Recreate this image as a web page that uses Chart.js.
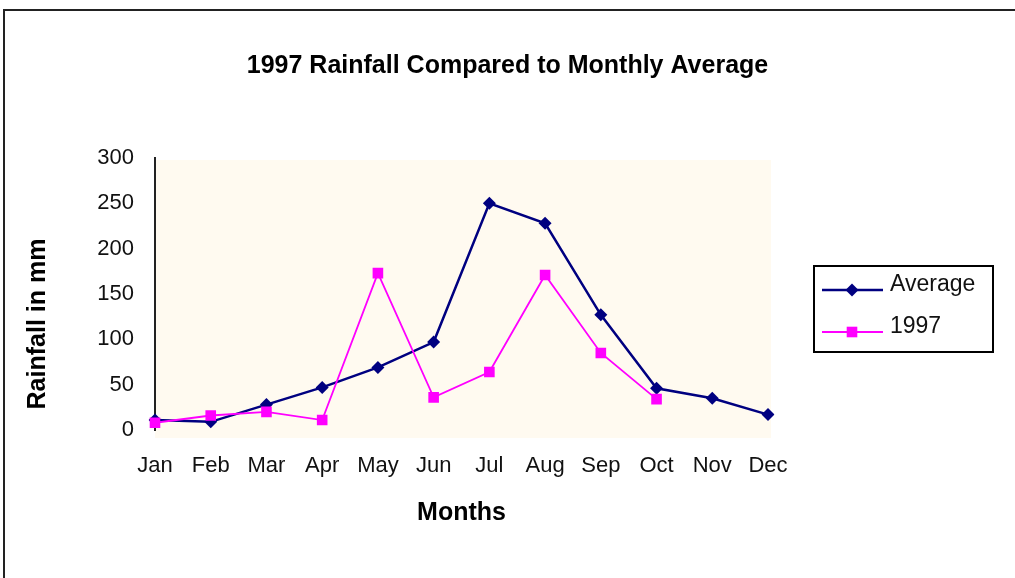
<!DOCTYPE html>
<html>
<head>
<meta charset="utf-8">
<script src="https://cdn.jsdelivr.net/npm/chart.js@4"></script>
<style>
  html, body { margin: 0; padding: 0; background: #fff; }
  #wrap { width: 1015px; height: 578px; }
</style>
</head>
<body>
<div id="wrap"><canvas id="rainChart" width="1015" height="578"></canvas></div>
<script>
const months = ['Jan', 'Feb', 'Mar', 'Apr', 'May', 'Jun', 'Jul', 'Aug', 'Sep', 'Oct', 'Nov', 'Dec'];
const averageRain = [11, 9, 28, 47, 69, 97, 250, 228, 127, 46, 35, 17];
const rain1997 = [8, 16, 20, 11, 173, 36, 64, 171, 85, 34, null, null];
const yTicks = [0, 50, 100, 150, 200, 250, 300];

const FONT = "'Liberation Sans', Arial, sans-serif";

// cream plot background, outer frame, y title and the boxed legend
const excelLook = {
  id: 'excelLook',
  beforeDraw(chart) {
    const { ctx, chartArea: a } = chart;
    ctx.save();
    ctx.fillStyle = '#fff';
    ctx.fillRect(0, 0, chart.width, chart.height);
    ctx.fillStyle = '#FFFAF0';
    ctx.fillRect(a.left, a.top + 2, a.right - a.left + 3, a.bottom - a.top + 6);
    ctx.strokeStyle = '#222';
    ctx.lineWidth = 2;
    ctx.strokeRect(4, 10, chart.width + 4, chart.height);
    ctx.restore();
  },
  afterDraw(chart) {
    const { ctx } = chart;
    ctx.save();
    // y axis title
    ctx.translate(38, 324);
    ctx.rotate(-Math.PI / 2);
    ctx.font = 'bold 25px ' + FONT;
    ctx.fillStyle = '#000';
    ctx.textAlign = 'center';
    ctx.textBaseline = 'middle';
    ctx.fillText('Rainfall in mm', 0, 0);
    ctx.restore();

    // legend
    ctx.save();
    ctx.strokeStyle = '#000';
    ctx.lineWidth = 2;
    ctx.strokeRect(814, 266, 179, 86);
    chart.data.datasets.forEach((ds, i) => {
      const y = 290 + i * 42;
      ctx.strokeStyle = ds.borderColor;
      ctx.lineWidth = ds.borderWidth;
      ctx.beginPath();
      ctx.moveTo(822, y);
      ctx.lineTo(883, y);
      ctx.stroke();
      ctx.fillStyle = ds.pointBackgroundColor;
      Chart.helpers.drawPoint(ctx, { pointStyle: ds.pointStyle, radius: ds.pointRadius, rotation: 0, borderWidth: 0 }, 852, y);
      ctx.fillStyle = '#111';
      ctx.font = '23px ' + FONT;
      ctx.textAlign = 'left';
      ctx.textBaseline = 'alphabetic';
      ctx.fillText(ds.label, 890, y + 1);
    });
    ctx.restore();
  }
};

new Chart(document.getElementById('rainChart').getContext('2d'), {
  type: 'line',
  data: {
    labels: months,
    datasets: [{
      label: 'Average',
      data: averageRain,
      borderColor: '#000080',
      backgroundColor: '#000080',
      pointBackgroundColor: '#000080',
      pointBorderColor: '#000080',
      borderWidth: 2.5,
      pointStyle: 'rectRot',
      pointRadius: 6.5,
      pointBorderWidth: 0,
      tension: 0,
      order: 2
    }, {
      label: '1997',
      data: rain1997,
      borderColor: '#FF00FF',
      backgroundColor: '#FF00FF',
      pointBackgroundColor: '#FF00FF',
      pointBorderColor: '#FF00FF',
      borderWidth: 1.8,
      pointStyle: 'rect',
      pointRadius: 7.5,
      pointBorderWidth: 0,
      tension: 0,
      order: 1
    }]
  },
  options: {
    responsive: false,
    animation: false,
    layout: { padding: { top: 51, right: 0, bottom: 0, left: 0 } },
    plugins: {
      legend: { display: false },
      tooltip: { enabled: false },
      title: {
        display: true,
        text: '1997 Rainfall Compared to Monthly Average',
        color: '#000',
        font: { family: FONT, size: 25, weight: 'bold' },
        padding: { top: 0, bottom: 77 }
      }
    },
    scales: {
      x: {
        offset: false,
        grid: { drawOnChartArea: false, drawTicks: false },
        border: { display: false },
        ticks: { color: '#111', font: { family: FONT, size: 22 }, padding: 23, maxRotation: 0, autoSkip: false },
        title: {
          display: true,
          text: 'Months',
          color: '#000',
          font: { family: FONT, size: 25, weight: 'bold' },
          padding: { top: 0, bottom: 50 }
        },
        afterFit(scale) { scale.height = 148; }
      },
      y: {
        min: 0,
        max: 300,
        grid: { drawOnChartArea: false, drawTicks: false },
        border: { display: true, color: '#222', width: 2 },
        afterBuildTicks(scale) { scale.ticks = yTicks.map(v => ({ value: v })); },
        ticks: { color: '#111', font: { family: FONT, size: 22 }, padding: 21 },
        afterFit(scale) { scale.width = 155; }
      },
      // empty right-hand axis that only reserves room for the legend box
      legendSpace: {
        position: 'right',
        min: 0,
        max: 300,
        grid: { display: false, drawTicks: false },
        border: { display: false },
        ticks: { display: false },
        afterFit(scale) { scale.width = 247; }
      }
    }
  },
  plugins: [excelLook]
});
</script>
</body>
</html>
